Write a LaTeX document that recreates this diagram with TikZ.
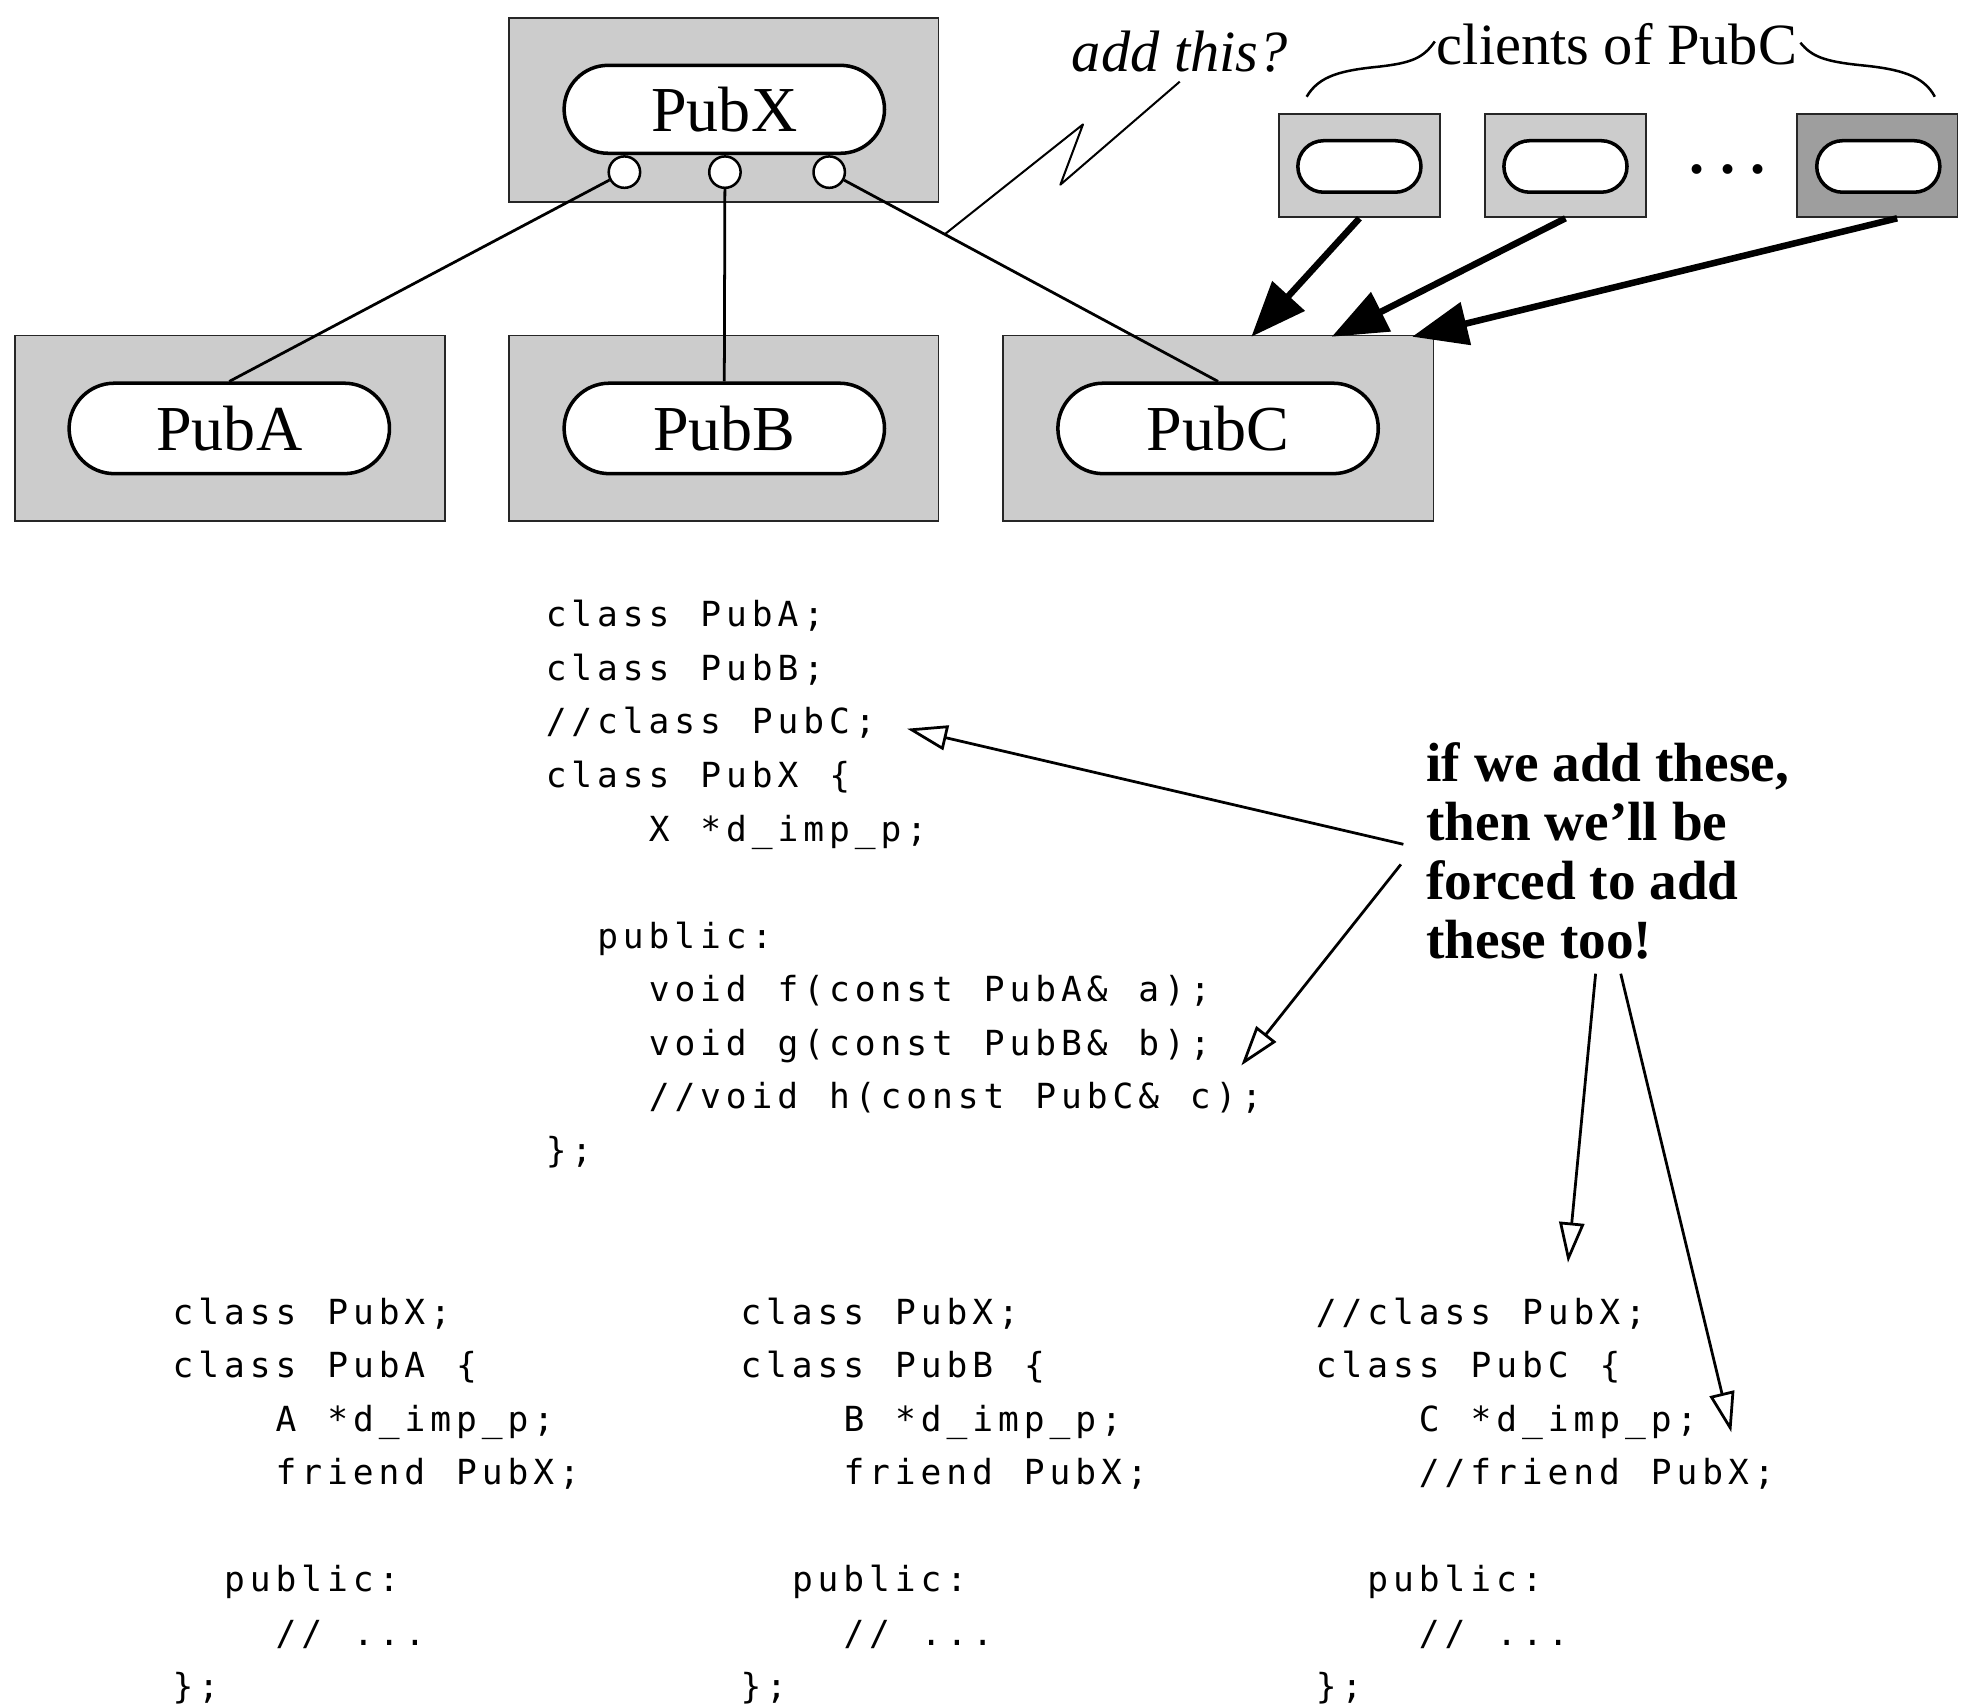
\documentclass[tikz,border=0pt]{standalone}
\usepackage{fontspec}
\setmainfont{Liberation Serif}
\newfontfamily\codefont[LetterSpace=14.3,WordSpace=1.2]{DejaVu Sans Mono}
\usetikzlibrary{arrows.meta,shapes.misc,calc}
\begin{document}
\begin{tikzpicture}[x=0.5pt,y=-0.5pt,
  shadebox/.style={draw=black!85,line width=0.75pt,fill=black!20,inner sep=0pt},
  darkbox/.style={shadebox,fill=black!38},
  pill/.style={rounded rectangle,draw=black,line width=1.4pt,fill=white,inner sep=0pt,
     font=\fontsize{25.5pt}{30pt}\selectfont},
  lolli/.style={circle,draw=black,line width=1pt,fill=white,inner sep=0pt,minimum size=12.5pt},
  link/.style={line width=1.1pt},
  bigarrow/.style={line width=2.6pt,-{Triangle[length=22pt,width=17pt]}},
  openarrow/.style={line width=1.1pt,-{Triangle[open,length=16pt,width=10pt,line width=1.1pt]}},
  code/.style={font=\codefont\fontsize{13.75pt}{21pt}\selectfont,anchor=base west,inner sep=0pt},
  callout/.style={font=\bfseries\fontsize{22pt}{23.5pt}\selectfont,anchor=base west,inner sep=0pt},
  annot/.style={font=\fontsize{23.25pt}{26pt}\selectfont,anchor=base,inner sep=0pt}
]
\fill[white] (0,0) rectangle (1568,1359);
\useasboundingbox (0,0) rectangle (1568,1359);

% ---------- component boxes ----------
\node[shadebox,minimum width=171pt,minimum height=73.5pt] (bX) at (576,87.5) {};
\node[shadebox,minimum width=171pt,minimum height=74pt] (bA) at (183,341) {};
\node[shadebox,minimum width=171pt,minimum height=74pt] (bB) at (576,341) {};
\node[shadebox,minimum width=171.5pt,minimum height=74pt] (bC) at (969.5,341) {};

\node[pill,minimum width=127.5pt,minimum height=35pt] (pX) at (576.5,87) {PubX};
\node[pill,minimum width=127.5pt,minimum height=36pt] (pA) at (182.5,341) {PubA};
\node[pill,minimum width=127.5pt,minimum height=36pt] (pB) at (576.5,341) {PubB};
\node[pill,minimum width=127.5pt,minimum height=36pt] (pC) at (969.5,341) {PubC};

% lollipops
\node[lolli] (l1) at (497,137) {};
\node[lolli] (l2) at (577,137) {};
\node[lolli] (l3) at (660,137) {};

\draw[link] (l1) -- (pA.north);
\draw[link] (l2) -- (pB.north);
\draw[link] (l3) -- (pC.north);

% add this?
\node[annot,font=\itshape\fontsize{23.25pt}{26pt}\selectfont] (add) at (939,57) {add this?};
\coordinate (zz) at ($(l3)!0.297!(pC.north)$);
\coordinate (zpeak) at (862,99);
\coordinate (zlow) at (844,147);
\coordinate (ztop) at (939,65);
\draw[line width=0.8pt,line join=round] (zz) -- (zpeak) -- (zlow) -- (ztop);

% clients of PubC
\node[annot] (cl) at (1287,51) {clients of PubC};
\draw[line width=1pt] (1040,77) .. controls (1050,60) and (1068,56) .. (1098,53)
      .. controls (1124,50) and (1133,46) .. (1142,33);
\draw[line width=1pt] (1433,34) .. controls (1442,45) and (1452,49) .. (1482,52)
      .. controls (1512,55) and (1531,60) .. (1540,77);

\node[shadebox,minimum width=64pt,minimum height=41pt] (c1) at (1082,132) {};
\node[shadebox,minimum width=64pt,minimum height=41pt] (c2) at (1246,132) {};
\node[darkbox,minimum width=64pt,minimum height=41pt] (c3) at (1494,132) {};
\node[pill,minimum width=49pt,minimum height=20.5pt] (q1) at (1082,132.5) {};
\node[pill,minimum width=49pt,minimum height=20.5pt] (q2) at (1246,132.5) {};
\node[pill,minimum width=49pt,minimum height=20.5pt] (q3) at (1495,132.5) {};
\node[font=\bfseries\fontsize{24pt}{24pt}\selectfont,anchor=base,inner sep=0pt] (dots) at (1375,138) {.\ .\ .};

\coordinate (t1) at (996,268);
\coordinate (t2) at (1060,268);
\coordinate (t3) at (1124,268);
\coordinate (s3) at ($(c3.south)+(16,0)$);
\draw[bigarrow] (c1.south) -- (t1);
\draw[bigarrow] (c2.south) -- (t2);
\draw[bigarrow] (s3) -- (t3);

% ---------- PubX header ----------
\node[code] (x1) at (434,499) {class PubA;};
\node[code] (x2) at (434,541.6) {class PubB;};
\node[code] (x3) at (434,584.2) {//class PubC;};
\node[code] (x4) at (434,626.8) {class PubX \{};
\node[code] (x5) at (516,669.4) {X *d\_imp\_p;};
\node[code] (x6) at (475,754.6) {public:};
\node[code] (x7) at (516,797.2) {void f(const PubA\& a);};
\node[code] (x8) at (516,839.8) {void g(const PubB\& b);};
\node[code] (x9) at (516,882.4) {//void h(const PubC\& c);};
\node[code] (x10) at (434,925) {\};};

% ---------- PubA header ----------
\node[code] (a1) at (137,1054) {class PubX;};
\node[code] (a2) at (137,1096.6) {class PubA \{};
\node[code] (a3) at (219,1139.2) {A *d\_imp\_p;};
\node[code] (a4) at (219,1181.8) {friend PubX;};
\node[code] (a5) at (178,1267) {public:};
\node[code] (a6) at (219,1309.6) {// ...};
\node[code] (a7) at (137,1352.2) {\};};

% ---------- PubB header ----------
\node[code] (b1) at (589,1054) {class PubX;};
\node[code] (b2) at (589,1096.6) {class PubB \{};
\node[code] (b3) at (671,1139.2) {B *d\_imp\_p;};
\node[code] (b4) at (671,1181.8) {friend PubX;};
\node[code] (b5) at (630,1267) {public:};
\node[code] (b6) at (671,1309.6) {// ...};
\node[code] (b7) at (589,1352.2) {\};};

% ---------- PubC header ----------
\node[code] (k1) at (1047,1054) {//class PubX;};
\node[code] (k2) at (1047,1096.6) {class PubC \{};
\node[code] (k3) at (1129,1139.2) {C *d\_imp\_p;};
\node[code] (k4) at (1129,1181.8) {//friend PubX;};
\node[code] (k5) at (1088,1267) {public:};
\node[code] (k6) at (1129,1309.6) {// ...};
\node[code] (k7) at (1047,1352.2) {\};};

% ---------- callout ----------
\node[callout] (n1) at (1135,622) {if we add these,};
\node[callout] (n2) at (1135,669) {then we'll be};
\node[callout] (n3) at (1135,716) {forced to add};
\node[callout] (n4) at (1135,763) {these too!};

\coordinate (a1s) at (1117,672);
\coordinate (a1t) at (722,580);
\coordinate (a2s) at (1115,688);
\coordinate (a2t) at (988,848);
\coordinate (a3s) at (1270,775);
\coordinate (a3t) at (1248,1005);
\coordinate (a4s) at (1290,775);
\coordinate (a4t) at (1378,1140);
\draw[openarrow] (a1s) -- (a1t);
\draw[openarrow] (a2s) -- (a2t);
\draw[openarrow] (a3s) -- (a3t);
\draw[openarrow] (a4s) -- (a4t);
\end{tikzpicture}
\end{document}
